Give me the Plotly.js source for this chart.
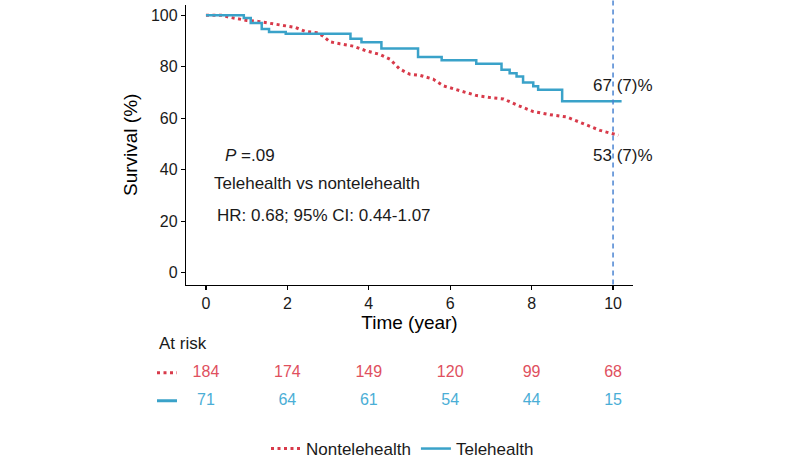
<!DOCTYPE html>
<html>
<head>
<meta charset="utf-8">
<script src="https://cdn.plot.ly/plotly-3.0.1.min.js"></script>
<style>html,body{margin:0;padding:0;background:#fff;}#chart{width:800px;height:467px;}</style>
</head>
<body>
<div id="chart"></div>
<script>
// Kaplan-Meier curves
const teleTime = [0, 0.93, 1.10, 1.37, 1.55, 1.96, 3.55, 3.82, 4.31, 5.21, 5.79, 6.64, 7.26, 7.46, 7.63, 7.79, 8.04, 8.16, 8.75, 10.21];
const teleSurv = [100, 98.9, 97.0, 94.7, 93.5, 92.8, 90.9, 89.5, 87.1, 83.8, 82.5, 81.2, 78.8, 77.5, 76.2, 73.9, 72.4, 71.1, 66.6, 66.6];

const nonTime = [0, 0.40, 0.55, 1.00, 1.28, 1.65, 1.98, 2.19, 2.43, 2.72, 2.88, 3.04, 3.29, 3.62, 3.95, 4.27, 4.52, 4.76, 5.01, 5.25, 5.58, 5.83, 6.24, 6.65, 7.05, 7.31, 7.63, 8.04, 8.45, 8.86, 9.27, 9.68, 10.13];
const nonSurv = [100, 100, 99.3, 98.0, 97.6, 96.7, 96.0, 95.3, 93.8, 93.2, 91.9, 89.7, 88.9, 88.0, 86.1, 84.8, 82.9, 79.1, 77.1, 76.7, 75.2, 72.6, 70.7, 68.8, 67.9, 67.5, 65.2, 62.6, 61.4, 60.5, 57.9, 55.3, 53.4];

// At-risk table
const riskTimes = [0, 2, 4, 6, 8, 10];
const riskNon = [184, 174, 149, 120, 99, 68];
const riskTele = [71, 64, 61, 54, 44, 15];

const xTicks = [0, 2, 4, 6, 8, 10];
const yTicks = [0, 20, 40, 60, 80, 100];

const RED = '#d83a4a';
const BLUE = '#3aa2c9';
const RED_TXT = '#e0505e';
const BLUE_TXT = '#4aaed6';
const FONT = 'Liberation Sans, Arial, Helvetica, sans-serif';

const traces = [
  {
    x: nonTime, y: nonSurv, type: 'scatter', mode: 'lines', name: 'Nontelehealth',
    line: {color: RED, width: 3, dash: '3px,3.5px', shape: 'linear'},
    xaxis: 'x', yaxis: 'y', hoverinfo: 'skip'
  },
  {
    x: teleTime, y: teleSurv, type: 'scatter', mode: 'lines', name: 'Telehealth',
    line: {color: BLUE, width: 2.5, shape: 'hv'},
    xaxis: 'x', yaxis: 'y', hoverinfo: 'skip'
  },
  {
    x: riskTimes, y: riskTimes.map(() => 1), text: riskNon.map(String),
    type: 'scatter', mode: 'text', textposition: 'middle center',
    textfont: {family: FONT, size: 16, color: RED_TXT},
    xaxis: 'x2', yaxis: 'y2', showlegend: false, cliponaxis: false, hoverinfo: 'skip'
  },
  {
    x: riskTimes, y: riskTimes.map(() => 0), text: riskTele.map(String),
    type: 'scatter', mode: 'text', textposition: 'middle center',
    textfont: {family: FONT, size: 16, color: BLUE_TXT},
    xaxis: 'x2', yaxis: 'y2', showlegend: false, cliponaxis: false, hoverinfo: 'skip'
  }
];

const plotW = 800 - 186 - 167;
const px2x = p => (p - 186) / plotW;
const py2y = p => (467 - p) / 467;

const layout = {
  width: 800, height: 467,
  margin: {l: 186, r: 167, t: 0, b: 0},
  paper_bgcolor: '#ffffff', plot_bgcolor: '#ffffff',
  font: {family: FONT, color: '#1a1a1a', size: 16},
  showlegend: true,
  legend: {
    orientation: 'h', x: px2x(266), xanchor: 'left', y: py2y(454), yanchor: 'middle',
    font: {family: FONT, size: 17, color: '#1a1a1a'}, itemwidth: 30, bgcolor: 'rgba(0,0,0,0)',
    traceorder: 'normal'
  },
  xaxis: {
    domain: [0, 1], range: [-0.49, 10.49], tickvals: xTicks, ticktext: xTicks.map(String),
    showline: true, linecolor: '#000', linewidth: 1.2, ticks: 'outside', ticklen: 4, tickcolor: '#000', tickwidth: 1.2,
    showgrid: false, zeroline: false, tickfont: {family: FONT, size: 16, color: '#1a1a1a'},
    title: {text: 'Time (year)', font: {family: FONT, size: 19, color: '#000'}, standoff: 2},
    anchor: 'y', fixedrange: true
  },
  yaxis: {
    domain: [py2y(287.7), py2y(5)], range: [-4.6, 104], tickvals: yTicks, ticktext: yTicks.map(String),
    showline: true, linecolor: '#000', linewidth: 1.2, ticks: 'outside', ticklen: 4, tickcolor: '#000', tickwidth: 1.2,
    showgrid: false, zeroline: false, tickfont: {family: FONT, size: 16, color: '#1a1a1a'},
    title: {text: 'Survival (%)', font: {family: FONT, size: 19, color: '#000'}, standoff: 8},
    anchor: 'x', fixedrange: true
  },
  xaxis2: {domain: [0, 1], range: [-0.49, 10.49], visible: false, anchor: 'y2', fixedrange: true},
  yaxis2: {domain: [py2y(433.3), py2y(348.4)], range: [-1, 2], visible: false, anchor: 'x2', fixedrange: true},
  shapes: [
    {type: 'line', xref: 'x', yref: 'paper', x0: 10, x1: 10, y0: py2y(287.7), y1: 1,
     line: {color: '#4a84d2', width: 1.5, dash: '5px,4px'}},
    {type: 'line', xref: 'paper', yref: 'y2', x0: px2x(157), x1: px2x(177), y0: 1, y1: 1,
     line: {color: RED, width: 3, dash: '3px,3.5px'}},
    {type: 'line', xref: 'paper', yref: 'y2', x0: px2x(157), x1: px2x(177), y0: 0, y1: 0,
     line: {color: BLUE, width: 3}}
  ],
  annotations: [
    {xref: 'x', yref: 'y', x: 9.47, y: 72.9, xanchor: 'left', yanchor: 'middle', showarrow: false,
     text: '67 (7)%', font: {family: FONT, size: 17, color: '#1a1a1a'}},
    {xref: 'x', yref: 'y', x: 9.47, y: 45.5, xanchor: 'left', yanchor: 'middle', showarrow: false,
     text: '53 (7)%', font: {family: FONT, size: 17, color: '#1a1a1a'}},
    {xref: 'x', yref: 'y', x: 0.41, y: 45.7, xanchor: 'left', yanchor: 'middle', showarrow: false,
     text: '<i>P</i> =.09', font: {family: FONT, size: 17, color: '#1a1a1a'}},
    {xref: 'x', yref: 'y', x: 0.16, y: 34.8, xanchor: 'left', yanchor: 'middle', showarrow: false,
     text: 'Telehealth vs nontelehealth', font: {family: FONT, size: 17, color: '#1a1a1a'}},
    {xref: 'x', yref: 'y', x: 0.22, y: 22.1, xanchor: 'left', yanchor: 'middle', showarrow: false,
     text: 'HR: 0.68; 95% CI: 0.44-1.07', font: {family: FONT, size: 17, color: '#1a1a1a'}},
    {xref: 'paper', yref: 'paper', x: px2x(157), y: py2y(347.3), xanchor: 'left', yanchor: 'middle', showarrow: false,
     text: 'At risk', font: {family: FONT, size: 17, color: '#1a1a1a'}}
  ]
};

Plotly.newPlot('chart', traces, layout, {staticPlot: true, displayModeBar: false});
</script>
</body>
</html>
